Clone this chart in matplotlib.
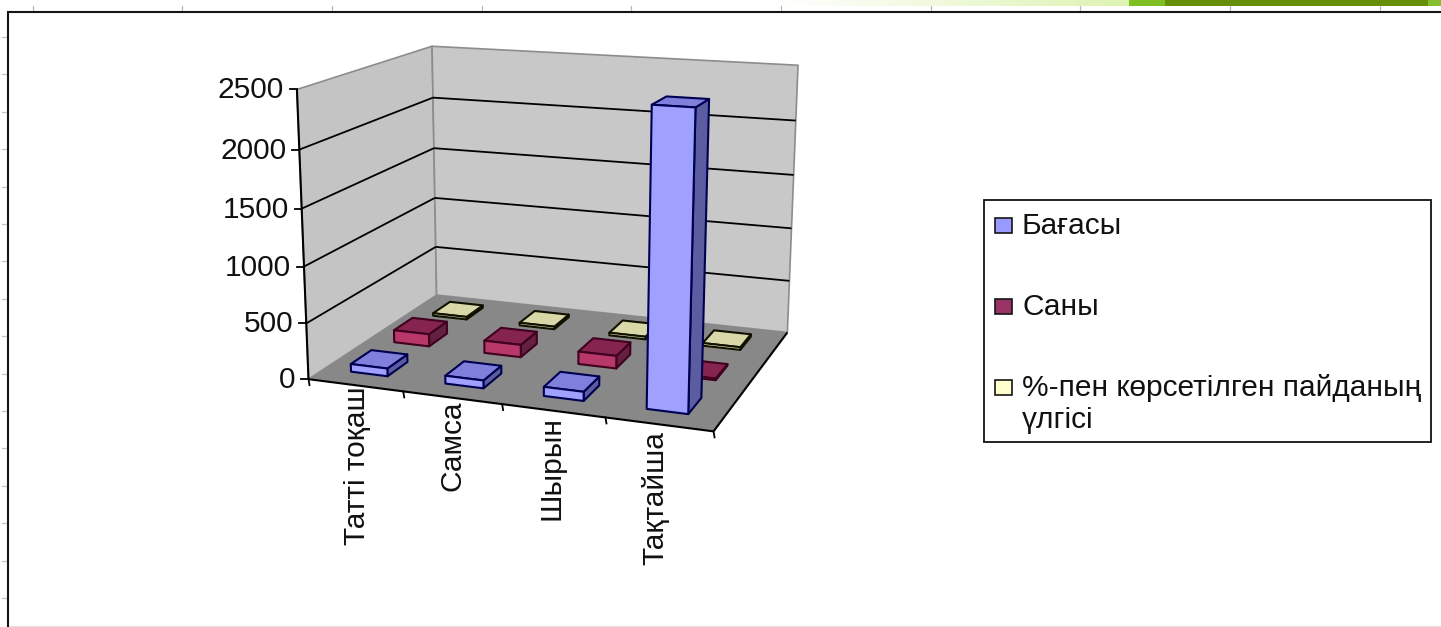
import numpy as np
import matplotlib
matplotlib.use("Agg")
import matplotlib.pyplot as plt
from matplotlib.patches import Polygon, Rectangle

plt.rcParams['font.family'] = ['Liberation Sans', 'DejaVu Sans']

# ---- data ----
categories = ["Татті тоқаш", "Самса", "Шырын", "Тақтайша"]
series_names = ["Бағасы", "Саны", "%-пен көрсетілген пайданың\nүлгісі"]
bagasy = [70, 70, 80, 2500]
sany = [115, 115, 115, 15]
paida = [25, 25, 25, 25]
value_ticks = [0, 500, 1000, 1500, 2000, 2500]
VMAX = 2500

series_values = [bagasy, sany, paida]
face_colors = ["#A0A0FF", "#B8386A", "#FFFFCC"]
top_colors = ["#8080DC", "#862450", "#D8D8A8"]
side_colors = ["#5C5CA0", "#642040", "#A8A888"]
edge_colors = ["#000050", "#400020", "#111100"]
depth_shift = [0.02, 0.01, 0.0]

W, H = 1441, 627
FS = 21.5
fig = plt.figure(figsize=(W / 100, H / 100), dpi=100)
ax = fig.add_axes([0, 0, 1, 1])
ax.set_xlim(0, W)
ax.set_ylim(H, 0)
ax.axis("off")

# ---- perspective camera fitted on the box corners (u, depth, value) -> pixel ----
cam_obj = [(0, 0, 0), (1, 0, 0), (0, 1, 0), (1, 1, 0), (0, 0, 1), (0, 1, 1), (1, 1, 1)]
cam_img = [(308, 379), (714, 431), (437, 295), (787, 333), (297, 90), (432, 46), (798, 65)]
A, b = [], []
for (x, y, z), (px, py) in zip(cam_obj, cam_img):
    A.append([x, y, z, 1, 0, 0, 0, 0, -px * x, -px * y, -px * z]); b.append(px)
    A.append([0, 0, 0, 0, x, y, z, 1, -py * x, -py * y, -py * z]); b.append(py)
P = np.append(np.linalg.lstsq(np.array(A, float), np.array(b, float), rcond=None)[0], 1).reshape(3, 4)


def proj(u, d, val):
    r = P @ np.array([u, d, val / VMAX, 1.0])
    return r[0] / r[2], r[1] / r[2]


def face(points, fc, ec="none", lw=0, z=2):
    ax.add_patch(Polygon([proj(*p) for p in points], closed=True, facecolor=fc,
                         edgecolor=ec, linewidth=lw, joinstyle="round", zorder=z))


def line(p0, p1, color="black", lw=1.3, z=3):
    a, c = proj(*p0), proj(*p1)
    ax.plot([a[0], c[0]], [a[1], c[1]], color=color, lw=lw, zorder=z, solid_capstyle="butt")


# ---- slide remnants round the chart ----
grad = np.ones((1, 400, 3))
t = np.linspace(0, 1, 400)[None, :]
grad[..., 0] = 1 - 0.13 * t
grad[..., 1] = 1 - 0.05 * t
grad[..., 2] = 1 - 0.30 * t
ax.imshow(grad, extent=(780, 1129, 6, 0), aspect="auto", zorder=0)
ax.add_patch(Rectangle((1129, 0), 36, 6, fc="#7FBF22", ec="none", zorder=0))
ax.add_patch(Rectangle((1165, 0), 276, 6, fc="#688F08", ec="none", zorder=0))
ax.add_patch(Rectangle((1428, 0), 13, 6, fc="#86BE30", ec="none", zorder=0))
ax.set_xlim(0, W)
ax.set_ylim(H, 0)
for x in np.arange(32.5, W, 149.7):
    ax.plot([x, x], [6, 11], color="#B8B8B8", lw=0.9, zorder=0)
for y in np.arange(37, H, 37.4):
    ax.plot([2, 7], [y, y], color="#C4C4C4", lw=0.9, zorder=0)
ax.plot([8, W], [625.5, 625.5], color="#E4E4E4", lw=0.9, zorder=0)
ax.plot([7.5, 7.5, W], [H, 11.5, 11.5], color="#151515", lw=1.5, zorder=1, solid_joinstyle="miter")

# ---- walls and floor ----
face([(0, 0, 0), (0, 1, 0), (0, 1, VMAX), (0, 0, VMAX)], "#C4C4C4", "#8C8C8C", 1.2)
face([(0, 1, 0), (1, 1, 0), (1, 1, VMAX), (0, 1, VMAX)], "#C8C8C8", "#8C8C8C", 1.2)
face([(0, 0, 0), (1, 0, 0), (1, 1, 0), (0, 1, 0)], "#888888", "none", 0)

for v in value_ticks[1:-1]:
    line((0, 0, v), (0, 1, v))
    line((0, 1, v), (1, 1, v))

# ---- axes ----
line((0, 0, 0), (0, 0, VMAX), lw=1.5)
line((0, 0, 0), (1, 0, 0), lw=1.5)
line((1, 0, 0), (1, 1, 0), lw=1.5)
for v in value_ticks:
    x, y = proj(0, 0, v)
    ax.plot([x - 7, x], [y, y], color="black", lw=1.3, zorder=3)
    ax.text(x - 13, y + 1, str(v), ha="right", va="center", fontsize=FS, color="#111111", zorder=6)
for k in range(len(categories) + 1):
    x, y = proj(k / len(categories), 0, 0)
    ax.plot([x, x + 1], [y, y + 6], color="black", lw=1.3, zorder=3)
for k, c in enumerate(categories):
    x, y = proj((k + 0.5) / len(categories), 0, 0)
    ax.text(x + 2 - 2 * k, y + 1 + 2 * k, c, rotation=90, ha="center", va="top", fontsize=FS,
            color="#111111", zorder=6)

# ---- bars, back to front ----
n_cat, n_ser = len(categories), len(series_values)
BW, BD = 0.098, 0.15
for s in range(n_ser - 1, -1, -1):
    for k in range(n_cat):
        v = series_values[s][k]
        u0 = (k + 0.5) / n_cat - BW / 2 - 0.005
        u1 = u0 + BW
        d0 = (s + 0.5) / n_ser + depth_shift[s] - BD / 2
        d1 = d0 + BD
        kw = dict(ec=edge_colors[s], lw=1.5, z=4)
        face([(u1, d0, 0), (u1, d1, 0), (u1, d1, v), (u1, d0, v)], side_colors[s], **kw)
        face([(u0, d0, v), (u1, d0, v), (u1, d1, v), (u0, d1, v)], top_colors[s], **kw)
        face([(u0, d0, 0), (u1, d0, 0), (u1, d0, v), (u0, d0, v)], face_colors[s], **kw)

# ---- legend ----
ax.add_patch(Rectangle((984, 199.5), 446.5, 242, fc="white", ec="#111111", lw=1.3, zorder=5))
legend_y = [225, 306, 387]
for name, y, fc, in zip(series_names, legend_y, ["#9999FF", "#993366", "#FFFFCC"]):
    ax.add_patch(Rectangle((995, y - 7.5), 17, 15, fc=fc, ec="#151515", lw=1.2, zorder=6))
    ax.text(1022, y - 13, name, ha="left", va="top", fontsize=FS, color="#111111",
            linespacing=1.2, zorder=6)

fig.savefig("out.png", dpi=100)
